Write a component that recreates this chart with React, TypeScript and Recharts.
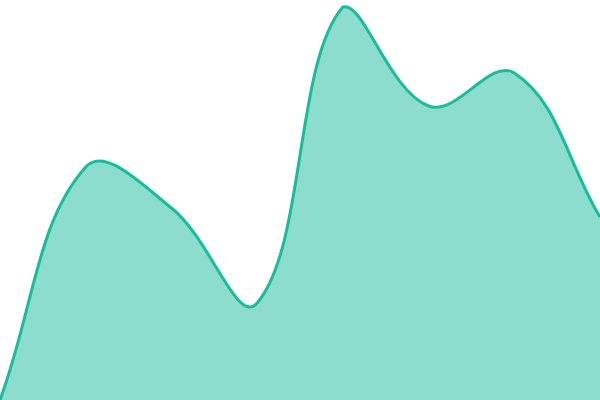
import { AreaChart, Area, XAxis, YAxis } from "recharts"

const labels = ["a", "b", "c", "d", "e", "f", "g", "h"]
const values = [0, 58.25, 48, 24.25, 98.25, 73.5, 81.75, 45.75]

const data = labels.map((name, i) => ({ name, value: values[i] }))

const TENSION = 0.4
const TOP = 0
const BOTTOM = 400

// spline like chart.js: tangent along (next - prev), scaled by distance ratio
function splineCurve(context: any) {
  let pts: number[][] = []
  let line = NaN
  const draw = () => {
    const n = pts.length
    if (!n) return
    const cps = pts.map((cur, i) => {
      const prev = pts[i - 1] || cur
      const next = pts[i + 1] || cur
      const d01 = Math.hypot(cur[0] - prev[0], cur[1] - prev[1])
      const d12 = Math.hypot(next[0] - cur[0], next[1] - cur[1])
      let s01 = d01 / (d01 + d12)
      let s12 = d12 / (d01 + d12)
      if (isNaN(s01)) s01 = 0
      if (isNaN(s12)) s12 = 0
      const fa = TENSION * s01
      const fb = TENSION * s12
      const clamp = (y: number) => Math.max(TOP, Math.min(BOTTOM, y))
      return {
        prev: [cur[0] - fa * (next[0] - prev[0]), clamp(cur[1] - fa * (next[1] - prev[1]))],
        next: [cur[0] + fb * (next[0] - prev[0]), clamp(cur[1] + fb * (next[1] - prev[1]))],
      }
    })
    if (line) context.lineTo(pts[0][0], pts[0][1])
    else context.moveTo(pts[0][0], pts[0][1])
    for (let i = 1; i < n; i++) {
      const a = cps[i - 1].next
      const b = cps[i].prev
      context.bezierCurveTo(a[0], a[1], b[0], b[1], pts[i][0], pts[i][1])
    }
  }
  return {
    areaStart() {
      line = 0
    },
    areaEnd() {
      line = NaN
    },
    lineStart() {
      pts = []
    },
    lineEnd() {
      draw()
      if (line || (line !== 0 && pts.length === 1)) context.closePath()
      line = 1 - line
    },
    point(x: number, y: number) {
      pts.push([+x, +y])
    },
  }
}

export default function App() {
  return (
    <div style={{ position: "absolute", top: 0, left: 0, width: 600, height: 400 }}>
      <AreaChart width={600} height={400} data={data} margin={{ top: 0, right: 0, bottom: 0, left: 0 }}>
        <XAxis dataKey="name" hide />
        <YAxis hide domain={[0, 100]} />
        <Area
          type={splineCurve as any}
          dataKey="value"
          stroke="#1abc9c"
          strokeWidth={3}
          fill="#1abc9c"
          fillOpacity={0.5}
          dot={false}
          activeDot={false}
          isAnimationActive={false}
        />
      </AreaChart>
    </div>
  )
}
